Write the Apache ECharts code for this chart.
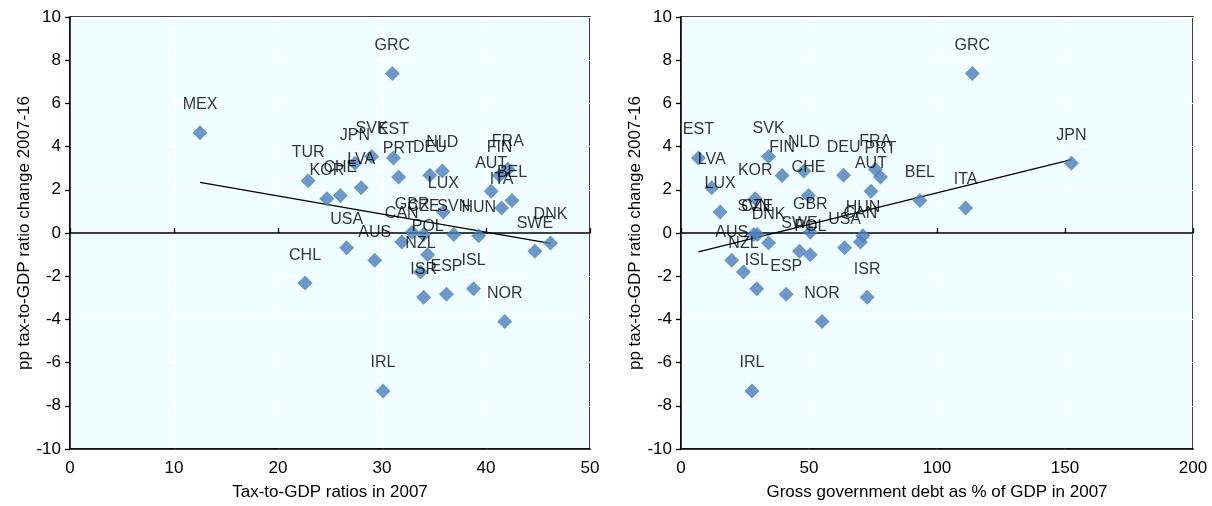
<!DOCTYPE html>
<html>
<head>
<meta charset="utf-8">
<script src="https://cdn.jsdelivr.net/npm/echarts@6/dist/echarts.min.js"></script>
<style>
html,body{margin:0;padding:0;background:#fff;}
#c{width:1212px;height:506px;}
</style>
</head>
<body>
<div id="c"></div>
<script>
// ---- DATA ----
const countries = ["MEX","TUR","KOR","CHE","LVA","JPN","SVK","EST","PRT","GRC","DEU","NLD","LUX","AUT","FIN","FRA","BEL","ITA","HUN","SVN","DNK","SWE","GBR","CZE","CAN","POL","NZL","ISR","ESP","ISL","NOR","USA","AUS","CHL","IRL"];
const taxRatio2007 = [12.5,22.9,24.7,26.0,28.0,27.4,29.0,31.1,31.6,31.0,34.6,35.8,35.9,40.5,41.3,42.1,42.5,41.5,39.3,36.9,46.2,44.7,32.9,34.0,31.9,34.4,33.7,34.0,36.2,38.8,41.8,26.6,29.3,22.6,30.1];
const debt2007 = [null,null,29.0,49.8,12.0,152.5,34.2,6.8,77.9,113.8,63.5,48.0,15.3,74.2,39.5,75.9,93.3,111.2,71.1,28.5,34.2,46.3,50.5,29.8,70.1,50.5,24.4,72.7,41.1,29.6,55.1,63.9,19.8,null,27.7];
const taxChange = [4.64,2.42,1.58,1.74,2.10,3.23,3.54,3.47,2.59,7.39,2.67,2.87,0.97,1.93,2.66,2.95,1.50,1.16,-0.13,-0.07,-0.46,-0.84,0.04,-0.07,-0.42,-1.01,-1.80,-2.97,-2.84,-2.58,-4.10,-0.68,-1.26,-2.32,-7.31];
const yTicks = {min:-10, max:10, interval:2};
const xLeftTicks = {min:0, max:50, interval:10};
const xRightTicks = {min:0, max:200, interval:50};
const yTitle = "pp tax-to-GDP ratio change 2007-16";
const xLeftTitle = "Tax-to-GDP ratios in 2007";
const xRightTitle = "Gross government debt as % of GDP in 2007";

// ---- BUILD ----
function points(xs){
  const out=[];
  countries.forEach((c,i)=>{ if(xs[i]!==null) out.push({value:[xs[i],taxChange[i]],name:c}); });
  return out;
}
function trend(xs){
  const px=[],py=[];
  xs.forEach((x,i)=>{ if(x!==null){px.push(x);py.push(taxChange[i]);} });
  const n=px.length, mx=px.reduce((a,b)=>a+b,0)/n, my=py.reduce((a,b)=>a+b,0)/n;
  let sxy=0,sxx=0; for(let i=0;i<n;i++){sxy+=(px[i]-mx)*(py[i]-my);sxx+=(px[i]-mx)**2;}
  const b=sxy/sxx,a=my-b*mx, x0=Math.min(...px), x1=Math.max(...px);
  return [[x0,a+b*x0],[x1,a+b*x1]];
}
const FONT = "'Liberation Sans',Arial,sans-serif";
const FS = 17;
const LFS = 16;
function mainX(grid, t, title){
  return {type:'value', gridIndex:grid, min:t.min, max:t.max, interval:t.interval, position:'bottom',
    axisLine:{onZero:false, lineStyle:{color:'#000',width:1.5}}, axisTick:{show:false},
    axisLabel:{color:'#000', fontFamily:FONT, fontSize:FS, margin:11},
    splitLine:{show:true, lineStyle:{color:'#fff',width:1}},
    name:title, nameLocation:'middle', nameGap:35, nameTextStyle:{color:'#000',fontFamily:FONT,fontSize:FS}};
}
function zeroX(grid, t){
  return {type:'value', gridIndex:grid, min:t.min, max:t.max, interval:t.interval, position:'top',
    axisLine:{onZero:true, lineStyle:{color:'#000',width:1.5}}, axisTick:{show:true, length:5, lineStyle:{color:'#000',width:1.3}},
    axisLabel:{show:false}, splitLine:{show:false}};
}
function mainY(grid){
  return {type:'value', gridIndex:grid, min:yTicks.min, max:yTicks.max, interval:yTicks.interval,
    axisLine:{onZero:false, lineStyle:{color:'#000',width:1.5}}, axisTick:{show:true,length:5,lineStyle:{color:'#000',width:1.3}},
    axisLabel:{color:'#000', fontFamily:FONT, fontSize:FS, margin:9},
    splitLine:{show:true, lineStyle:{color:'#fff',width:1}},
    name:yTitle, nameLocation:'middle', nameGap:35, nameTextStyle:{color:'#000',fontFamily:FONT,fontSize:FS}};
}
function scatter(xi, yi, xs){
  return {type:'scatter', xAxisIndex:xi, yAxisIndex:yi, data:points(xs), symbol:'diamond', symbolSize:15,
    itemStyle:{color:'#4A7EBB'}, z:3,
    label:{show:true, position:'inside', offset:[0,-28], formatter:'{b}', color:'#000', fontFamily:FONT, fontSize:LFS},
    emphasis:{disabled:true}};
}
function trendSeries(xi, yi, xs){
  return {type:'line', xAxisIndex:xi, yAxisIndex:yi, data:trend(xs), showSymbol:false, symbol:'none',
    lineStyle:{color:'#000',width:1.3}, z:2, silent:true};
}
const option = {
  animation:false,
  backgroundColor:'#fff',
  grid:[
    {left:70, top:17, width:520, height:434, show:true, backgroundColor:'#F0FEFF', borderColor:'#000', borderWidth:1.5},
    {left:681, top:17, width:512, height:434, show:true, backgroundColor:'#F0FEFF', borderColor:'#000', borderWidth:1.5}
  ],
  xAxis:[ mainX(0,xLeftTicks,xLeftTitle), zeroX(0,xLeftTicks), mainX(1,xRightTicks,xRightTitle), zeroX(1,xRightTicks) ],
  yAxis:[ mainY(0), mainY(1) ],
  series:[
    trendSeries(0,0,taxRatio2007), scatter(0,0,taxRatio2007),
    trendSeries(2,1,debt2007), scatter(2,1,debt2007)
  ]
};
const chart = echarts.init(document.getElementById('c'), null, {renderer:'canvas'});
chart.setOption(option);
</script>
</body>
</html>
